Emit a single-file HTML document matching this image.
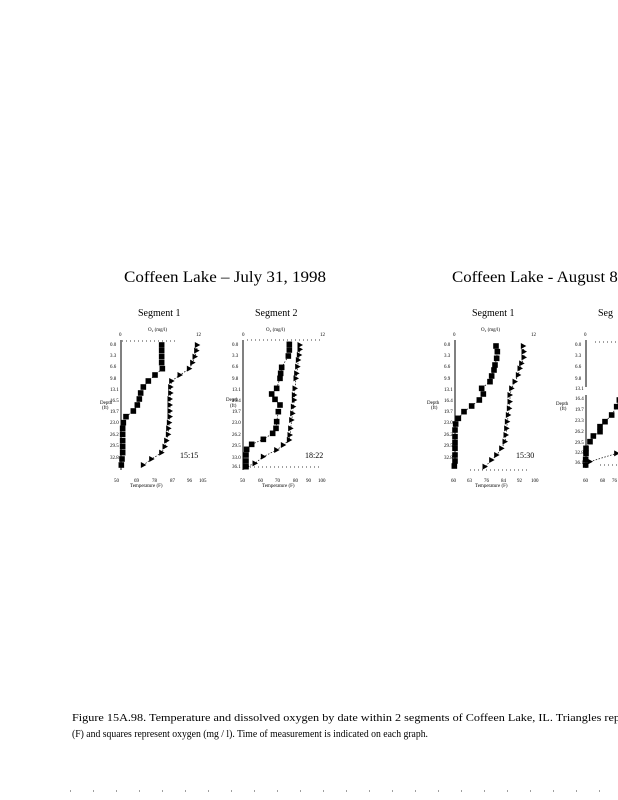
<!DOCTYPE html>
<html><head><meta charset="utf-8"><style>
html,body{margin:0;padding:0;background:#fff}
svg{display:block}
text{font-family:"Liberation Serif",serif;fill:#000}
.t{font-size:5px;font-family:"Liberation Sans",sans-serif}
</style></head><body>
<svg id="s" width="618" height="800" viewBox="0 0 618 800" xmlns="http://www.w3.org/2000/svg">
<text x="124" y="282" font-size="16" textLength="202" lengthAdjust="spacingAndGlyphs">Coffeen Lake – July 31, 1998</text>
<text x="452" y="282" font-size="16" textLength="170" lengthAdjust="spacingAndGlyphs">Coffeen Lake - August 8,</text>
<text x="138" y="316" font-size="10">Segment 1</text>
<text x="255" y="316" font-size="10">Segment 2</text>
<text x="472" y="316" font-size="10">Segment 1</text>
<text x="598" y="316" font-size="10">Seg</text>
<g id="axes" stroke="#000" stroke-width="1" fill="none">
<line x1="121" y1="340" x2="121" y2="470"/>
<line x1="243" y1="340" x2="243" y2="470"/>
<line x1="455" y1="340" x2="455" y2="468"/>
<line x1="586" y1="340" x2="586" y2="387"/>
<line x1="586" y1="395" x2="586" y2="468"/>
</g>
<g stroke="#000" stroke-width="0.7" stroke-dasharray="1,3" fill="none">
<line x1="122" y1="341" x2="175" y2="341"/>
<line x1="247" y1="340" x2="322" y2="340"/>
<line x1="250" y1="467" x2="322" y2="467"/>
<line x1="470" y1="470" x2="530" y2="470"/>
<line x1="595" y1="342" x2="618" y2="342"/>
<line x1="600" y1="465" x2="618" y2="465"/>
<line x1="70" y1="791" x2="618" y2="791" stroke-dasharray="1,22"/>
</g>
<g class="t">
<text x="119" y="336">0</text><text x="148" y="331">O₂ (mg/l)</text><text x="196" y="336">12</text>
<text x="242" y="336">0</text><text x="266" y="331">O₂ (mg/l)</text><text x="320" y="336">12</text>
<text x="453" y="336">0</text><text x="481" y="331">O₂ (mg/l)</text><text x="531" y="336">12</text>
<text x="584" y="336">0</text>
<text x="114" y="482">50</text><text x="134" y="482">69</text><text x="152" y="482">78</text><text x="170" y="482">87</text><text x="187" y="482">96</text><text x="199" y="482">105</text>
<text x="130" y="487">Temperature (F)</text>
<text x="240" y="482">50</text><text x="258" y="482">60</text><text x="275" y="482">70</text><text x="293" y="482">80</text><text x="306" y="482">90</text><text x="318" y="482">100</text>
<text x="262" y="487">Temperature (F)</text>
<text x="451" y="482">60</text><text x="467" y="482">63</text><text x="484" y="482">76</text><text x="501" y="482">84</text><text x="517" y="482">92</text><text x="531" y="482">100</text>
<text x="475" y="487">Temperature (F)</text>
<text x="583" y="482">60</text><text x="600" y="482">68</text><text x="612" y="482">76</text>
<text x="100" y="404">Depth</text><text x="102" y="409">(ft)</text>
<text x="226" y="401">Depth</text><text x="230" y="407">(ft)</text>
<text x="427" y="404">Depth</text><text x="431" y="409">(ft)</text>
<text x="556" y="405">Depth</text><text x="560" y="410">(ft)</text>
</g>
<text x="180" y="458" font-size="8" font-family="Liberation Sans,sans-serif">15:15</text>
<text x="305" y="458" font-size="8" font-family="Liberation Sans,sans-serif">18:22</text>
<text x="516" y="458" font-size="8" font-family="Liberation Sans,sans-serif">15:30</text>
<text x="72" y="721" font-size="10.5" textLength="548" lengthAdjust="spacingAndGlyphs">Figure 15A.98. Temperature and dissolved oxygen by date within 2 segments of Coffeen Lake, IL. Triangles rep</text>
<text x="72" y="737" font-size="10.5" textLength="356" lengthAdjust="spacingAndGlyphs">(F) and squares represent oxygen (mg / l). Time of measurement is indicated on each graph.</text>
<g font-family="Liberation Sans,sans-serif" font-size="5">
<text x="110" y="346">0.0</text><text x="110" y="357">3.3</text><text x="110" y="368">6.6</text><text x="110" y="380">9.8</text><text x="110" y="391">13.1</text><text x="110" y="402">16.5</text><text x="110" y="413">19.7</text><text x="110" y="424">23.0</text><text x="110" y="436">26.2</text><text x="110" y="447">29.5</text><text x="110" y="459">32.8</text>
<text x="232" y="346">0.0</text><text x="232" y="357">3.3</text><text x="232" y="368">6.6</text><text x="232" y="380">9.8</text><text x="232" y="391">13.1</text><text x="232" y="402">16.4</text><text x="232" y="413">19.7</text><text x="232" y="424">23.0</text><text x="232" y="436">26.2</text><text x="232" y="447">29.5</text><text x="232" y="459">33.0</text><text x="232" y="468">36.1</text>
<text x="444" y="346">0.0</text><text x="444" y="357">3.3</text><text x="444" y="368">6.6</text><text x="444" y="380">9.9</text><text x="444" y="391">13.1</text><text x="444" y="402">16.4</text><text x="444" y="413">19.7</text><text x="444" y="424">23.0</text><text x="444" y="436">26.2</text><text x="444" y="447">29.5</text><text x="444" y="459">32.8</text>
<text x="575" y="346">0.0</text><text x="575" y="357">3.3</text><text x="575" y="368">6.6</text><text x="575" y="380">9.8</text><text x="575" y="390">13.1</text><text x="575" y="400">16.4</text><text x="575" y="411">19.7</text><text x="575" y="422">23.3</text><text x="575" y="433">26.2</text><text x="575" y="444">29.5</text><text x="575" y="454">32.8</text><text x="575" y="464">36.1</text>
</g>
</svg>
<script>
var s=document.getElementById('s'),NS='http://www.w3.org/2000/svg';
function el(n,a){var e=document.createElementNS(NS,n);for(var k in a)e.setAttribute(k,a[k]);s.appendChild(e);return e;}
function conv(arr,ox,oy){return arr.map(function(p){return [p[0]/3+ox,p[1]/3+oy];});}
function series(pts,type){
 el('polyline',{points:pts.map(function(p){return p.join(',')}).join(' '),fill:'none',stroke:'#000','stroke-width':0.7,'stroke-dasharray':'1.5,1.5'});
 pts.forEach(function(p){
  if(type=='s')el('rect',{x:p[0]-2.8,y:p[1]-2.8,width:5.6,height:5.6,fill:'#000'});
  else el('polygon',{points:(p[0]-2.5)+','+(p[1]-3)+' '+(p[0]+3)+','+p[1]+' '+(p[0]-2.5)+','+(p[1]+3),fill:'#000'});
 });
}
var A=[[185,255],[185,272],[185,290],[185,308],[187,326],[165,345],[145,363],[130,381],[122,399],[118,417],[112,435],[100,453],[78,470],[70,488],[68,505],[68,523],[68,542],[68,560],[68,578],[66,597],[64,615]];
var B=[[292,255],[290,272],[285,290],[278,308],[268,326],[240,345],[215,363],[212,381],[212,399],[210,417],[210,435],[210,453],[210,470],[208,488],[206,505],[205,523],[200,542],[195,560],[185,578],[155,597],[130,615]];
series(conv(A,100,260),'s');series(conv(B,100,260),'t');
var C=[[568,253],[568,270],[565,288],[545,322],[542,340],[540,355],[530,385],[515,402],[525,418],[540,435],[535,455],[530,485],[528,505],[518,520],[490,538],[455,553],[440,568],[438,585],[438,603],[438,620]];
var D=[[600,255],[600,268],[598,285],[595,300],[593,320],[590,340],[588,355],[585,385],[583,405],[583,420],[580,440],[578,460],[575,480],[572,505],[570,525],[568,540],[550,555],[530,570],[490,590],[465,610],[440,620]];
series(conv(C,100,260),'s');series(conv(D,100,260),'t');
var E=[[228,258],[232,275],[230,295],[225,315],[222,330],[215,348],[210,365],[185,385],[190,402],[178,420],[155,438],[132,455],[115,475],[107,492],[105,510],[105,530],[105,548],[105,565],[105,585],[105,603],[103,618]];
var F=[[310,258],[312,275],[312,292],[305,310],[300,325],[295,345],[285,365],[275,385],[270,405],[270,425],[268,445],[265,465],[262,485],[260,505],[258,525],[255,545],[245,565],[230,585],[215,600],[195,620]];
series(conv(E,420,260),'s');series(conv(F,420,260),'t');
var G=[[598,420],[590,440],[575,465],[555,485],[540,500],[540,515],[520,528],[510,545],[498,565],[498,580],[497,598],[497,615]];
series(conv(G,420,260),'s');series(conv([[510,605],[590,580]],420,260),'t');
</script>
</body></html>
